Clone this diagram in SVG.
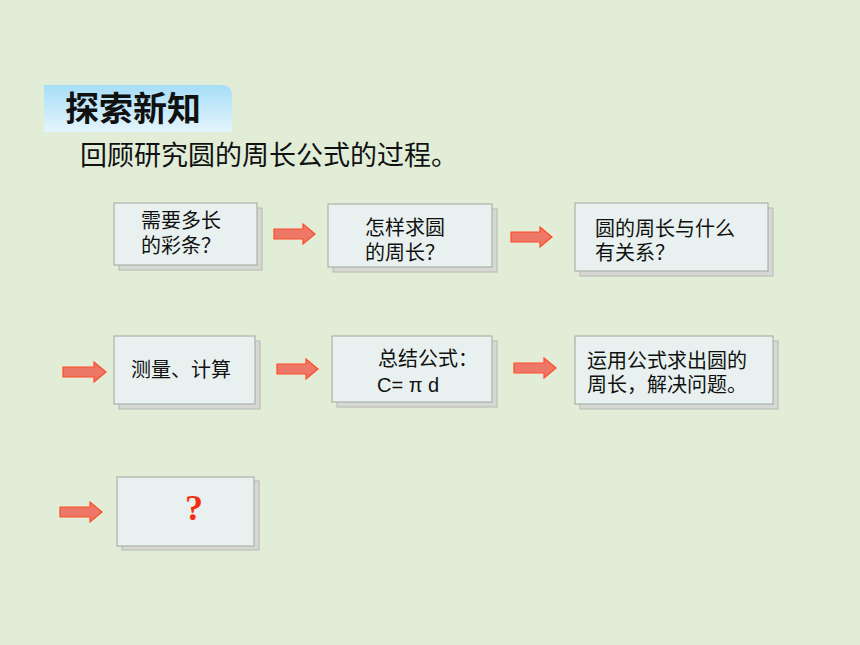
<svg xmlns="http://www.w3.org/2000/svg" width="860" height="645" viewBox="0 0 860 645">
<defs>
<linearGradient id="tg" x1="0" y1="0" x2="0" y2="1">
<stop offset="0" stop-color="#A6DEF8"/>
<stop offset="1" stop-color="#E4F4FC"/>
</linearGradient>
<style>
.sh{fill:#D6D8D4;stroke:#B4B8B2;stroke-width:1}
.bx{fill:#E8F1EF;stroke:#A9B3A8;stroke-width:1.2}
.t{font-family:"Liberation Sans","Noto Sans CJK SC",sans-serif;font-size:20px;fill:#111}
.ar{fill:#EE7868;stroke:#FF4A26;stroke-width:1.2}
</style>
</defs>
<rect width="860" height="645" fill="#E2EDD8"/>
<g id="title">
<path d="M44 85 H222 Q232 85 232 95 V132 H44 Z" fill="url(#tg)"/>
<text x="65" y="121" font-family="'Liberation Sans','Noto Sans CJK SC',sans-serif" font-size="34" font-weight="bold" fill="#111">探索新知</text>
</g>
<g id="subtitle">
<text x="80" y="165" font-family="'Liberation Sans','Noto Sans CJK SC',sans-serif" font-size="27" fill="#111">回顾研究圆的周长公式的过程。</text>
</g>
<g id="n1">
<rect class="sh" x="119" y="208" width="143" height="62"/>
<rect class="bx" x="114" y="203" width="143" height="62"/>
<text class="t" x="141" y="228">需要多长</text>
<text class="t" x="141" y="253">的彩条？</text>
</g>
<g id="n2">
<rect class="sh" x="333" y="209" width="164" height="63"/>
<rect class="bx" x="328" y="204" width="164" height="63"/>
<text class="t" x="365" y="235">怎样求圆</text>
<text class="t" x="365" y="260">的周长？</text>
</g>
<g id="n3">
<rect class="sh" x="580" y="208" width="193" height="68"/>
<rect class="bx" x="575" y="203" width="193" height="68"/>
<text class="t" x="595" y="236">圆的周长与什么</text>
<text class="t" x="595" y="260">有关系？</text>
</g>
<g id="n4">
<rect class="sh" x="119" y="341" width="141" height="68"/>
<rect class="bx" x="114" y="336" width="141" height="68"/>
<text class="t" x="131" y="377">测量、计算</text>
</g>
<g id="n5">
<rect class="sh" x="337" y="341" width="160" height="66"/>
<rect class="bx" x="332" y="336" width="160" height="66"/>
<text class="t" x="378" y="366">总结公式：</text>
<text class="t" x="377" y="392">C= π d</text>
</g>
<g id="n6">
<rect class="sh" x="580" y="341" width="198" height="68"/>
<rect class="bx" x="575" y="336" width="198" height="68"/>
<text class="t" x="587" y="368">运用公式求出圆的</text>
<text class="t" x="587" y="392">周长，解决问题。</text>
</g>
<g id="n7">
<rect class="sh" x="122" y="481" width="137" height="69"/>
<rect class="bx" x="117" y="477" width="137" height="69"/>
<text x="194" y="520" text-anchor="middle" font-family="'Liberation Serif',serif" font-size="36" font-weight="bold" fill="#F03010">?</text>
</g>
<g id="connectors">
<path class="ar" d="M274 229 H303 V224 L315 234 L303 244 V239 H274 Z"/>
<path class="ar" d="M511 232 H540 V227 L552 237 L540 247 V242 H511 Z"/>
<path class="ar" d="M63 367 H94 V362 L106 372 L94 382 V377 H63 Z"/>
<path class="ar" d="M277 364 H306 V359 L318 369 L306 379 V374 H277 Z"/>
<path class="ar" d="M514 363 H544 V358 L556 368 L544 378 V373 H514 Z"/>
<path class="ar" d="M60 507 H90 V502 L102 512 L90 522 V517 H60 Z"/>
</g>
</svg>
